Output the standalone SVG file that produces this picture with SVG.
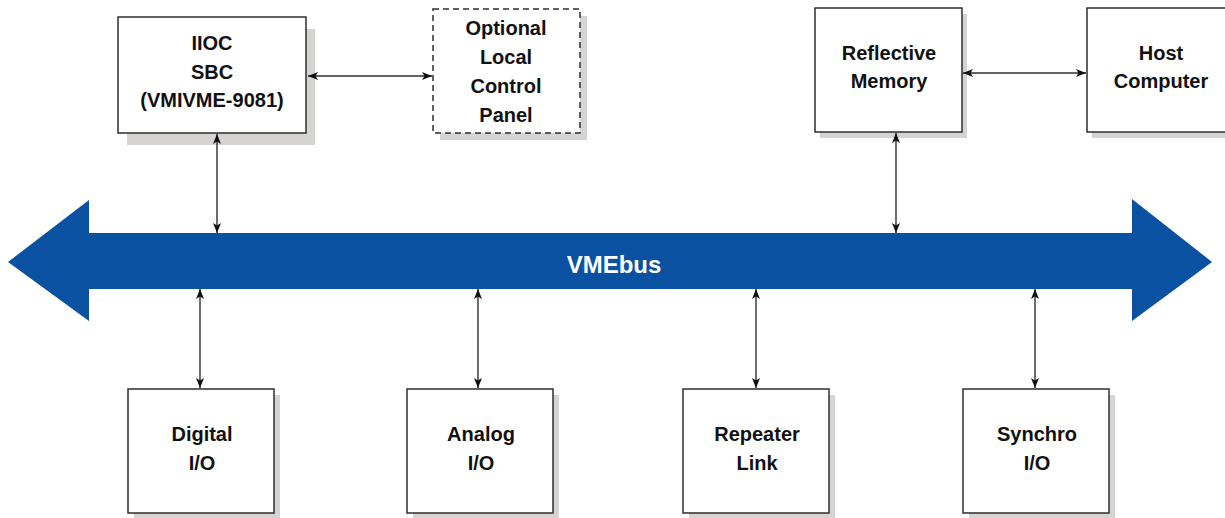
<svg xmlns="http://www.w3.org/2000/svg" width="1225" height="518" viewBox="0 0 1225 518">
<style>
.box{fill:#fff;stroke:#2e2e2e;stroke-width:1.5}
.dash{fill:#fff;stroke:#2e2e2e;stroke-width:1.5;stroke-dasharray:6 4}
.sh{fill:#d6d3d3}
.t{font-family:"Liberation Sans",Arial,sans-serif;font-weight:bold;font-size:20px;fill:#111;text-anchor:middle}
.c{stroke:#2e2e2e;stroke-width:1.4;fill:none;marker-start:url(#ah);marker-end:url(#ah)}
</style>
<defs>
<marker id="ah" viewBox="0 0 10 8" refX="10" refY="4" markerWidth="10" markerHeight="8" markerUnits="userSpaceOnUse" orient="auto-start-reverse">
<path d="M0,0 L10,4 L0,8 L2.5,4 Z" fill="#111"/>
</marker>
</defs>
<rect width="1225" height="518" fill="#fff"/>

<g id="bus">
<polygon points="8,262 89,200 89,233 1132,233 1132,199 1212,262 1132,321 1132,289 89,289 89,321" fill="#0b51a1"/>
<text x="614" y="273" style="font-family:'Liberation Sans',Arial,sans-serif;font-weight:bold;font-size:24px;fill:#fff;text-anchor:middle">VMEbus</text>
</g>

<g id="iioc">
<rect class="sh" x="127" y="29" width="188" height="116"/>
<rect class="box" x="118" y="17" width="188" height="116"/>
<text class="t" x="212" y="50">IIOC</text>
<text class="t" x="212" y="78.5">SBC</text>
<text class="t" x="212" y="107">(VMIVME-9081)</text>
</g>

<g id="panel">
<rect class="sh" x="440" y="16" width="147" height="124"/>
<rect class="dash" x="433" y="9" width="147" height="124"/>
<text class="t" x="506" y="35">Optional</text>
<text class="t" x="506" y="64">Local</text>
<text class="t" x="506" y="93">Control</text>
<text class="t" x="506" y="122">Panel</text>
</g>

<g id="refmem">
<rect class="sh" x="820" y="14" width="147" height="124"/>
<rect class="box" x="815" y="8" width="147" height="124"/>
<text class="t" x="889" y="60">Reflective</text>
<text class="t" x="889" y="88">Memory</text>
</g>

<g id="host">
<rect class="sh" x="1092" y="14" width="147" height="124"/>
<rect class="box" x="1087" y="8" width="147" height="124"/>
<text class="t" x="1161" y="60">Host</text>
<text class="t" x="1161" y="88">Computer</text>
</g>

<g id="digital">
<rect class="sh" x="134" y="395" width="146" height="124"/>
<rect class="box" x="128" y="389" width="146" height="124"/>
<text class="t" x="202" y="441">Digital</text>
<text class="t" x="202" y="470">I/O</text>
</g>

<g id="analog">
<rect class="sh" x="413" y="395" width="146" height="124"/>
<rect class="box" x="407" y="389" width="146" height="124"/>
<text class="t" x="481" y="441">Analog</text>
<text class="t" x="481" y="470">I/O</text>
</g>

<g id="repeater">
<rect class="sh" x="689" y="395" width="146" height="124"/>
<rect class="box" x="683" y="389" width="146" height="124"/>
<text class="t" x="757" y="441">Repeater</text>
<text class="t" x="757" y="470">Link</text>
</g>

<g id="synchro">
<rect class="sh" x="969" y="395" width="146" height="124"/>
<rect class="box" x="963" y="389" width="146" height="124"/>
<text class="t" x="1037" y="441">Synchro</text>
<text class="t" x="1037" y="470">I/O</text>
</g>

<g id="connectors">
<line class="c" x1="308" y1="76" x2="432" y2="76"/>
<line class="c" x1="963" y1="73" x2="1086" y2="73"/>
<line class="c" x1="217" y1="134" x2="217" y2="233"/>
<line class="c" x1="896" y1="133" x2="896" y2="233"/>
<line class="c" x1="200" y1="289" x2="200" y2="388"/>
<line class="c" x1="478" y1="289" x2="478" y2="388"/>
<line class="c" x1="756" y1="289" x2="756" y2="388"/>
<line class="c" x1="1035" y1="289" x2="1035" y2="388"/>
</g>
</svg>
